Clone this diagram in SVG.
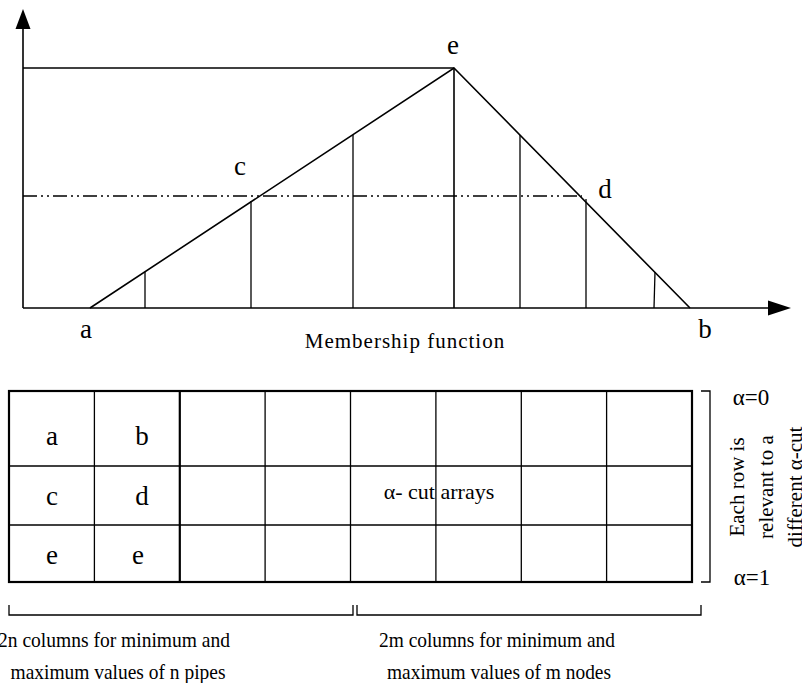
<svg xmlns="http://www.w3.org/2000/svg" width="802" height="683" viewBox="0 0 802 683">
<style>
.ln{stroke:#000;stroke-width:1.6;fill:none}
.thin{stroke:#000;stroke-width:1.3;fill:none}
.thick{stroke:#000;stroke-width:2.2;fill:none}
.t{font-family:"Liberation Serif","Times New Roman",serif;fill:#000}
.lbl{font-size:27px;text-anchor:middle}
.cell{font-size:27px;text-anchor:middle}
.small{font-size:21px;text-anchor:middle}
</style>
<rect width="802" height="683" fill="#fff"/>
<g id="axes">
<line class="ln" x1="23" y1="308" x2="23" y2="27"/>
<polygon points="23,9 15.5,29 30.5,29" fill="#000"/>
<line class="ln" x1="23" y1="308" x2="770" y2="308"/>
<polygon points="791,308 768,300.5 768,315.5" fill="#000"/>
</g>
<g id="membership">
<line class="ln" x1="23" y1="68" x2="454" y2="68"/>
<polyline class="ln" points="90,308 454,68 690,308"/>
<line class="ln" x1="454" y1="68" x2="454" y2="308"/>
<line class="ln" x1="23" y1="196" x2="582" y2="196" stroke-dasharray="14 4 2 4 2 4"/>
<line class="thin" x1="145" y1="272" x2="145" y2="308"/>
<line class="thin" x1="251" y1="201" x2="251" y2="308"/>
<line class="thin" x1="353" y1="135" x2="353" y2="308"/>
<line class="thin" x1="520" y1="135" x2="520" y2="308"/>
<line class="thin" x1="586" y1="199" x2="586" y2="308"/>
<line class="thin" x1="655" y1="272" x2="654" y2="308"/>
<text class="t lbl" x="453" y="54">e</text>
<text class="t lbl" x="240" y="175">c</text>
<text class="t lbl" x="605" y="198">d</text>
<text class="t lbl" x="86" y="338">a</text>
<text class="t lbl" x="705" y="338">b</text>
<text class="t" x="405" y="348" font-size="21" text-anchor="middle" letter-spacing="1">Membership function</text>
</g>
<g id="table">
<rect class="thick" x="9" y="391" width="683" height="191"/>
<line class="thin" x1="9" y1="466" x2="692" y2="466"/>
<line class="thin" x1="9" y1="525" x2="692" y2="525"/>
<line class="thin" x1="94.4" y1="391" x2="94.4" y2="582"/>
<line class="thick" x1="179.8" y1="391" x2="179.8" y2="582"/>
<line class="thin" x1="265.1" y1="391" x2="265.1" y2="582"/>
<line class="thin" x1="350.5" y1="391" x2="350.5" y2="582"/>
<line class="thin" x1="435.9" y1="391" x2="435.9" y2="582"/>
<line class="thin" x1="521.3" y1="391" x2="521.3" y2="582"/>
<line class="thin" x1="606.6" y1="391" x2="606.6" y2="582"/>
<text class="t cell" x="52" y="445">a</text>
<text class="t cell" x="142" y="445">b</text>
<text class="t cell" x="52" y="505">c</text>
<text class="t cell" x="142" y="505">d</text>
<text class="t cell" x="52" y="564">e</text>
<text class="t cell" x="138" y="564">e</text>
<text class="t" x="439" y="499" font-size="22" text-anchor="middle">α- cut arrays</text>
</g>
<g id="row-bracket">
<polyline class="thin" points="701,391 710,391 710,582 701,582"/>
<text class="t" x="751" y="405" font-size="23" text-anchor="middle">α=0</text>
<text class="t" x="752" y="585" font-size="23" text-anchor="middle">α=1</text>
<text class="t" font-size="21" text-anchor="middle" transform="translate(744,487) rotate(-90)">Each row is</text>
<text class="t" font-size="21" text-anchor="middle" transform="translate(773,487) rotate(-90)">relevant to a</text>
<text class="t" font-size="21" text-anchor="middle" transform="translate(802,487) rotate(-90)">different α-cut</text>
</g>
<g id="col-brackets">
<polyline class="thin" points="9,605 9,615 353,615 353,605"/>
<polyline class="thin" points="357,605 357,615 701,615 701,605"/>
<text class="t small" x="114" y="647" textLength="232" lengthAdjust="spacingAndGlyphs">2n columns for minimum and</text>
<text class="t small" x="118" y="679" textLength="215" lengthAdjust="spacingAndGlyphs">maximum values of n pipes</text>
<text class="t small" x="497" y="647" textLength="236" lengthAdjust="spacingAndGlyphs">2m columns for minimum and</text>
<text class="t small" x="499" y="679" textLength="224" lengthAdjust="spacingAndGlyphs">maximum values of m nodes</text>
</g>
</svg>
